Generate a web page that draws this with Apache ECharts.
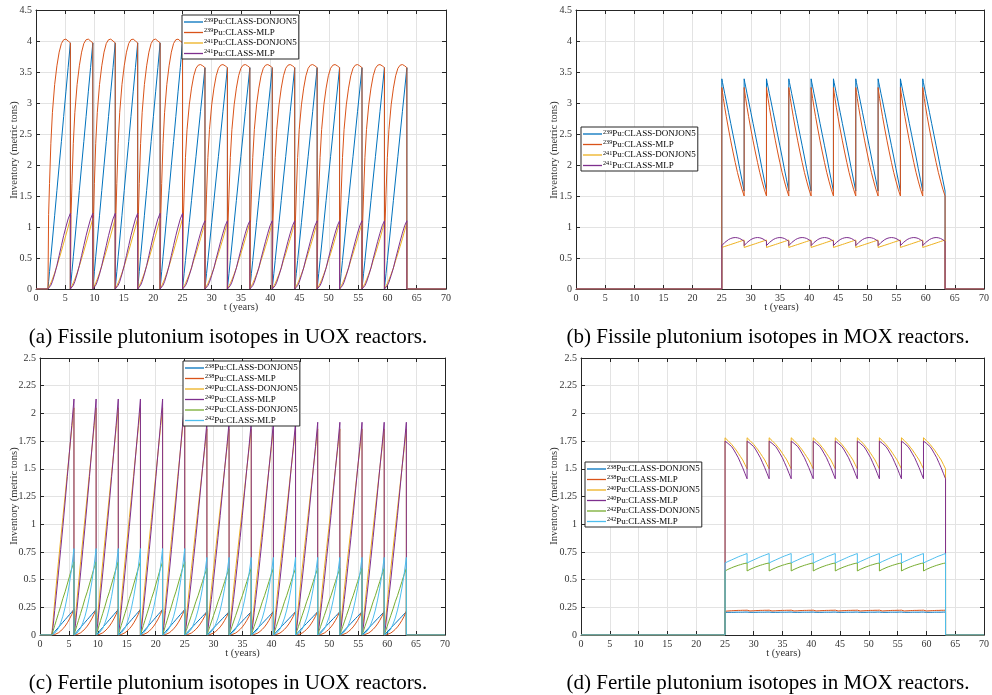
<!DOCTYPE html>
<html>
<head>
<meta charset="utf-8">
<script src="https://cdn.jsdelivr.net/npm/echarts@6/dist/echarts.min.js"></script>
<style>html,body{margin:0;padding:0;background:#fff}#c{width:992px;height:695px}</style>
</head>
<body>
<div id="c"></div>
<script>
// ---- cycle boundaries (years) ----
const cycleBounds = [2.04, 5.87, 9.70, 13.53, 17.36, 21.19, 25.02, 28.85, 32.68, 36.51, 40.34, 44.17, 48.00, 51.83, 55.66, 59.49, 63.32];
const uoxHighCycles = 6;      // first UOX cycles with higher loading
const moxFirstCycle = 6;      // MOX reactors start at cycleBounds[6]
const phase = [0, 0.03, 0.07, 0.13, 0.2, 0.3, 0.4, 0.5, 0.6, 0.7, 0.8, 0.9, 1];
const xTicks = {min: 0, max: 70, interval: 5};

// ---- (a) fissile, UOX: inventory within one cycle (metric tons) ----
const pu239DonjonUoxHigh = [0, 0.12, 0.28, 0.52, 0.79, 1.19, 1.59, 1.99, 2.38, 2.78, 3.18, 3.57, 3.97];
const pu239DonjonUoxLow  = [0, 0.11, 0.25, 0.46, 0.71, 1.07, 1.43, 1.79, 2.14, 2.50, 2.86, 3.21, 3.57];
const pu239MlpUoxHigh    = [0, 1.2, 1.7, 2.35, 2.85, 3.3, 3.6, 3.82, 3.96, 4.02, 4.03, 4.0, 3.97];
const pu239MlpUoxLow     = [0, 1.08, 1.53, 2.12, 2.57, 2.97, 3.24, 3.44, 3.56, 3.61, 3.62, 3.6, 3.57];
const pu241DonjonUoxHigh = [0, 0.02, 0.05, 0.1, 0.16, 0.26, 0.37, 0.49, 0.61, 0.74, 0.87, 1.0, 1.14];
const pu241DonjonUoxLow  = [0, 0.02, 0.05, 0.09, 0.15, 0.24, 0.34, 0.46, 0.57, 0.69, 0.81, 0.94, 1.07];
const pu241MlpUoxHigh    = [0, 0.005, 0.02, 0.06, 0.12, 0.24, 0.38, 0.54, 0.7, 0.86, 1.0, 1.13, 1.22];
const pu241MlpUoxLow     = [0, 0.005, 0.018, 0.054, 0.11, 0.22, 0.34, 0.49, 0.63, 0.77, 0.9, 1.02, 1.1];

// ---- (b) fissile, MOX ----
const pu239DonjonMox = [3.39, 3.33, 3.26, 3.15, 3.03, 2.85, 2.67, 2.49, 2.31, 2.13, 1.94, 1.76, 1.58];
const pu239MlpMox    = [3.25, 3.17, 3.07, 2.93, 2.78, 2.58, 2.39, 2.21, 2.04, 1.88, 1.74, 1.61, 1.5];
const pu241DonjonMox = [0.67, 0.674, 0.678, 0.686, 0.694, 0.706, 0.718, 0.73, 0.742, 0.754, 0.766, 0.778, 0.79];
const pu241MlpMox    = [0.7, 0.712, 0.728, 0.75, 0.772, 0.797, 0.815, 0.826, 0.83, 0.826, 0.815, 0.795, 0.77];

// ---- (c) fertile, UOX ----
const pu238DonjonUoxHigh = [0, 0.007, 0.016, 0.03, 0.046, 0.069, 0.092, 0.115, 0.138, 0.161, 0.184, 0.207, 0.23];
const pu238DonjonUoxLow  = [0, 0.006, 0.015, 0.027, 0.042, 0.063, 0.084, 0.105, 0.126, 0.147, 0.168, 0.189, 0.21];
const pu238MlpUoxHigh    = [0, 0, 0.001, 0.004, 0.009, 0.02, 0.036, 0.056, 0.08, 0.11, 0.145, 0.185, 0.235];
const pu238MlpUoxLow     = [0, 0, 0.001, 0.004, 0.008, 0.018, 0.033, 0.051, 0.073, 0.1, 0.132, 0.169, 0.215];
const pu240DonjonUoxHigh = [0, 0.07, 0.16, 0.3, 0.45, 0.66, 0.86, 1.06, 1.26, 1.46, 1.66, 1.86, 2.05];
const pu240DonjonUoxLow  = [0, 0.063, 0.145, 0.27, 0.41, 0.6, 0.78, 0.96, 1.14, 1.32, 1.5, 1.68, 1.86];
const pu240MlpUoxHigh    = [0, 0.04, 0.1, 0.22, 0.36, 0.56, 0.77, 0.98, 1.2, 1.43, 1.66, 1.89, 2.13];
const pu240MlpUoxLow     = [0, 0.036, 0.09, 0.2, 0.32, 0.5, 0.69, 0.88, 1.08, 1.29, 1.5, 1.7, 1.92];
const pu242DonjonUoxHigh = [0, 0.02, 0.045, 0.085, 0.13, 0.195, 0.26, 0.33, 0.39, 0.46, 0.53, 0.6, 0.66];
const pu242DonjonUoxLow  = [0, 0.018, 0.041, 0.077, 0.118, 0.177, 0.236, 0.3, 0.355, 0.418, 0.482, 0.545, 0.6];
const pu242MlpUoxHigh    = [0, 0.002, 0.006, 0.015, 0.03, 0.06, 0.11, 0.17, 0.25, 0.35, 0.47, 0.61, 0.78];
const pu242MlpUoxLow     = [0, 0.002, 0.005, 0.013, 0.027, 0.054, 0.099, 0.153, 0.225, 0.315, 0.423, 0.55, 0.7];

// ---- (d) fertile, MOX ----
const pu238DonjonMox = [0.204, 0.204, 0.204, 0.205, 0.205, 0.205, 0.205, 0.206, 0.206, 0.206, 0.206, 0.207, 0.207];
const pu238MlpMox    = [0.214, 0.215, 0.216, 0.217, 0.218, 0.219, 0.22, 0.221, 0.222, 0.222, 0.223, 0.223, 0.224];
const pu240DonjonMox = [1.78, 1.775, 1.765, 1.755, 1.74, 1.72, 1.695, 1.67, 1.64, 1.61, 1.58, 1.54, 1.5];
const pu240MlpMox    = [1.75, 1.748, 1.74, 1.73, 1.72, 1.70, 1.67, 1.635, 1.6, 1.555, 1.51, 1.46, 1.41];
const pu242DonjonMox = [0.578, 0.581, 0.585, 0.592, 0.599, 0.607, 0.615, 0.622, 0.629, 0.635, 0.641, 0.646, 0.65];
const pu242MlpMox    = [0.65, 0.653, 0.657, 0.663, 0.669, 0.678, 0.687, 0.696, 0.705, 0.713, 0.72, 0.728, 0.735];

const namesFissile = ['239Pu:CLASS-DONJON5', '239Pu:CLASS-MLP', '241Pu:CLASS-DONJON5', '241Pu:CLASS-MLP'];
const namesFertile = ['238Pu:CLASS-DONJON5', '238Pu:CLASS-MLP', '240Pu:CLASS-DONJON5', '240Pu:CLASS-MLP', '242Pu:CLASS-DONJON5', '242Pu:CLASS-MLP'];
const captions = ['(a) Fissile plutonium isotopes in UOX reactors.', '(b) Fissile plutonium isotopes in MOX reactors.',
                  '(c) Fertile plutonium isotopes in UOX reactors.', '(d) Fertile plutonium isotopes in MOX reactors.'];
const yTitle = 'Inventory (metric tons)';
const xTitle = 't (years)';

// ---- build series from cycles ----
function buildUox(high, low) {
  const pts = [[0, 0], [cycleBounds[0], 0]];
  for (let c = 0; c < cycleBounds.length - 1; c++) {
    const t0 = cycleBounds[c], t1 = cycleBounds[c + 1];
    const prof = c < uoxHighCycles ? high : low;
    phase.forEach((p, k) => pts.push([t0 + p * (t1 - t0), prof[k]]));
  }
  pts.push([cycleBounds[cycleBounds.length - 1], 0], [70, 0]);
  return pts;
}
function buildMox(prof) {
  const b = cycleBounds.slice(moxFirstCycle);
  const pts = [[0, 0], [b[0], 0]];
  for (let c = 0; c < b.length - 1; c++) {
    const t0 = b[c], t1 = b[c + 1];
    phase.forEach((p, k) => pts.push([t0 + p * (t1 - t0), prof[k]]));
  }
  pts.push([b[b.length - 1], 0], [70, 0]);
  return pts;
}

const colors = ['#0072BD', '#D95319', '#EDB120', '#7E2F8E', '#77AC30', '#4DBEEE'];
const FONT = 'Liberation Serif';
const AX = '#262626';

const grids = [
  {left: 36, top: 10, width: 410, height: 279},
  {left: 576, top: 10, width: 411, height: 279},
  {left: 40, top: 358, width: 405, height: 277},
  {left: 581, top: 358, width: 405, height: 277}
];
const yMaxs = [4.5, 4.5, 2.5, 2.5];
const yInts = [0.5, 0.5, 0.25, 0.25];

const xAxis = [], yAxis = [];
grids.forEach((g, i) => {
  xAxis.push({
    type: 'value', gridIndex: i, min: xTicks.min, max: xTicks.max, interval: xTicks.interval, position: 'bottom',
    axisLine: {show: true, onZero: false, lineStyle: {color: AX, width: 1}},
    axisTick: {show: true, inside: true, length: 4, lineStyle: {color: AX}},
    axisLabel: {color: '#333', fontFamily: FONT, fontSize: 10, margin: 4},
    splitLine: {show: true, lineStyle: {color: '#e3e3e3', width: 1}}
  });
  xAxis.push({
    type: 'value', gridIndex: i, min: xTicks.min, max: xTicks.max, interval: xTicks.interval, position: 'top',
    axisLine: {show: true, onZero: false, lineStyle: {color: AX, width: 1}},
    axisTick: {show: true, inside: true, length: 4, lineStyle: {color: AX}},
    axisLabel: {show: false}, splitLine: {show: false}
  });
  yAxis.push({
    type: 'value', gridIndex: i, min: 0, max: yMaxs[i], interval: yInts[i], position: 'left',
    axisLine: {show: true, onZero: false, lineStyle: {color: AX, width: 1}},
    axisTick: {show: true, inside: true, length: 4, lineStyle: {color: AX}},
    axisLabel: {color: '#333', fontFamily: FONT, fontSize: 10, margin: 4},
    splitLine: {show: true, lineStyle: {color: '#e3e3e3', width: 1}}
  });
  yAxis.push({
    type: 'value', gridIndex: i, min: 0, max: yMaxs[i], interval: yInts[i], position: 'right',
    axisLine: {show: true, onZero: false, lineStyle: {color: AX, width: 1}},
    axisTick: {show: true, inside: true, length: 4, lineStyle: {color: AX}},
    axisLabel: {show: false}, splitLine: {show: false}
  });
});

const seriesDefs = [
  [0, namesFissile[0], 0, buildUox(pu239DonjonUoxHigh, pu239DonjonUoxLow)],
  [0, namesFissile[1], 1, buildUox(pu239MlpUoxHigh, pu239MlpUoxLow)],
  [0, namesFissile[2], 2, buildUox(pu241DonjonUoxHigh, pu241DonjonUoxLow)],
  [0, namesFissile[3], 3, buildUox(pu241MlpUoxHigh, pu241MlpUoxLow)],
  [1, namesFissile[0], 0, buildMox(pu239DonjonMox)],
  [1, namesFissile[1], 1, buildMox(pu239MlpMox)],
  [1, namesFissile[2], 2, buildMox(pu241DonjonMox)],
  [1, namesFissile[3], 3, buildMox(pu241MlpMox)],
  [2, namesFertile[0], 0, buildUox(pu238DonjonUoxHigh, pu238DonjonUoxLow)],
  [2, namesFertile[1], 1, buildUox(pu238MlpUoxHigh, pu238MlpUoxLow)],
  [2, namesFertile[2], 2, buildUox(pu240DonjonUoxHigh, pu240DonjonUoxLow)],
  [2, namesFertile[3], 3, buildUox(pu240MlpUoxHigh, pu240MlpUoxLow)],
  [2, namesFertile[4], 4, buildUox(pu242DonjonUoxHigh, pu242DonjonUoxLow)],
  [2, namesFertile[5], 5, buildUox(pu242MlpUoxHigh, pu242MlpUoxLow)],
  [3, namesFertile[0], 0, buildMox(pu238DonjonMox)],
  [3, namesFertile[1], 1, buildMox(pu238MlpMox)],
  [3, namesFertile[2], 2, buildMox(pu240DonjonMox)],
  [3, namesFertile[3], 3, buildMox(pu240MlpMox)],
  [3, namesFertile[4], 4, buildMox(pu242DonjonMox)],
  [3, namesFertile[5], 5, buildMox(pu242MlpMox)]
];
const series = seriesDefs.map(([g, name, ci, data]) => ({
  type: 'line', name, xAxisIndex: 2 * g, yAxisIndex: 2 * g, data,
  symbol: 'none', showSymbol: false, animation: false,
  color: colors[ci], lineStyle: {color: colors[ci], width: 1}
}));

function legendFmt(name) {
  const m = name.match(/^(\d+)(.*)$/);
  return '{sup|' + m[1] + '}{b|' + m[2] + '}';
}
function mkLegend(data, left, top) {
  return {
    data, left, top, orient: 'vertical', selectedMode: false,
    icon: 'rect', itemWidth: 19, itemHeight: 1.3, itemGap: 1,
    backgroundColor: '#fff', borderColor: AX, borderWidth: 1, borderRadius: 0,
    padding: [2, 2, 1, 2],
    formatter: legendFmt,
    textStyle: {
      fontFamily: FONT, color: '#000', padding: [0, 0, 0, -4],
      rich: {
        sup: {fontFamily: FONT, fontSize: 6.2, verticalAlign: 'top', lineHeight: 10, color: '#000'},
        b: {fontFamily: FONT, fontSize: 9, lineHeight: 10, color: '#000'}
      }
    }
  };
}
const legend = [
  mkLegend(namesFissile, 182, 15),
  mkLegend(namesFissile, 581, 127),
  mkLegend(namesFertile, 183, 361),
  mkLegend(namesFertile, 585, 462)
];

const graphic = [];
const capPos = [[228, 337], [768, 337], [228, 683], [768, 683]];
captions.forEach((t, i) => graphic.push({
  type: 'text', x: capPos[i][0], y: capPos[i][1],
  style: {text: t, font: '21px "' + FONT + '"', fill: '#000', textAlign: 'center', textVerticalAlign: 'middle'}
}));
const yTitlePos = [[14, 150], [554, 150], [14, 496], [554, 496]];
yTitlePos.forEach(p => graphic.push({
  type: 'text', x: p[0], y: p[1], rotation: Math.PI / 2,
  style: {text: yTitle, font: '10.5px "' + FONT + '"', fill: '#333', textAlign: 'center', textVerticalAlign: 'middle'}
}));
grids.forEach((g, i) => graphic.push({
  type: 'text', x: g.left + g.width / 2, y: g.top + g.height + 18,
  style: {text: xTitle, font: '10.5px "' + FONT + '"', fill: '#333', textAlign: 'center', textVerticalAlign: 'middle'}
}));

const chart = echarts.init(document.getElementById('c'), null, {renderer: 'canvas'});
chart.setOption({
  animation: false,
  backgroundColor: '#fff',
  grid: grids.map(g => Object.assign({containLabel: false}, g)),
  xAxis, yAxis, series, legend, graphic
});
</script>
</body>
</html>
